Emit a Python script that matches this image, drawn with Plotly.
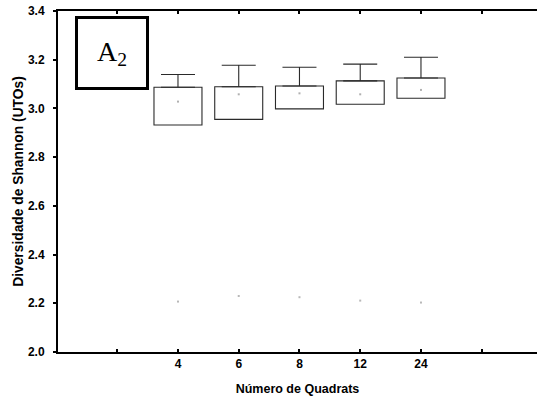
import plotly.graph_objects as go

# Number of quadrats sampled and Shannon diversity summaries per group
quadrats = ["4", "6", "8", "12", "24"]
box_low = [2.932, 2.955, 2.998, 3.017, 3.042]
box_high = [3.087, 3.089, 3.092, 3.113, 3.125]
whisker_high = [3.139, 3.177, 3.169, 3.182, 3.210]
centre = [3.028, 3.058, 3.062, 3.058, 3.076]
low_marks = [2.207, 2.230, 2.225, 2.211, 2.203]

# numeric slot for each category (slots 1 and 7 are empty tick positions)
xpos = [i + 2 for i in range(len(quadrats))]
tick_vals = [1] + xpos + [7]
tick_text = [""] + quadrats + [""]

font_family = "Liberation Sans, Arial, sans-serif"
bold_font = dict(family=font_family, size=12, color="black", weight="bold")
xtitle_font = dict(family=font_family, size=12.5, color="black", weight="bold")
ytitle_font = dict(family=font_family, size=13.8, color="black", weight="bold")

fig = go.Figure()

# boxes: from lower to upper quartile
fig.add_trace(go.Bar(
    x=xpos,
    y=[h - l for h, l in zip(box_high, box_low)],
    base=box_low,
    width=0.79,
    marker=dict(color="white", line=dict(color="#2a2a2a", width=1.1)),
    hoverinfo="skip",
    showlegend=False,
))

# upper whiskers with caps
fig.add_trace(go.Scatter(
    x=xpos,
    y=box_high,
    mode="markers",
    marker=dict(size=1, color="rgba(0,0,0,0)"),
    error_y=dict(
        type="data",
        symmetric=False,
        array=[w - h for w, h in zip(whisker_high, box_high)],
        arrayminus=[0] * len(xpos),
        color="#2a2a2a",
        thickness=1.1,
        width=17,
    ),
    showlegend=False,
    hoverinfo="skip",
))

# faint centre points
fig.add_trace(go.Scatter(
    x=xpos, y=centre, mode="markers",
    marker=dict(size=2, color="#b0b0b0", symbol="square"),
    showlegend=False, hoverinfo="skip",
))

# faint lower marks
fig.add_trace(go.Scatter(
    x=xpos, y=low_marks, mode="markers",
    marker=dict(size=2, color="#b8b8b8", symbol="square"),
    showlegend=False, hoverinfo="skip",
))

fig.update_layout(
    width=537, height=406,
    margin=dict(l=58, r=0, t=11, b=54),
    paper_bgcolor="white",
    plot_bgcolor="white",
    font=dict(family=font_family, size=12, color="black"),
    xaxis=dict(
        range=[0.025, 7.91],
        tickmode="array",
        tickvals=tick_vals,
        ticktext=tick_text,
        ticks="inside",
        ticklen=3,
        tickwidth=1.5,
        tickcolor="black",
        showline=True,
        linecolor="black",
        linewidth=2,
        mirror="ticks",
        showgrid=False,
        zeroline=False,
        tickfont=bold_font,
        title=dict(text="Número de Quadrats", standoff=14, font=xtitle_font),
    ),
    yaxis=dict(
        range=[2.0, 3.4],
        tickmode="array",
        tickvals=[2.0, 2.2, 2.4, 2.6, 2.8, 3.0, 3.2, 3.4],
        ticktext=["2.0", "2.2", "2.4", "2.6", "2.8", "3.0", "3.2", "3.4"],
        ticks="outside",
        ticklen=3,
        tickwidth=1.5,
        tickcolor="black",
        ticklabelstandoff=6,
        showline=True,
        linecolor="black",
        linewidth=2,
        showgrid=False,
        zeroline=False,
        tickfont=bold_font,
        title=dict(text="Diversidade de Shannon (UTOs)", standoff=1, font=ytitle_font),
    ),
    annotations=[dict(
        text="A<sub>2</sub>",
        xref="paper", yref="paper",
        x=0.0355, y=0.984,
        xanchor="left", yanchor="top",
        showarrow=False,
        font=dict(family="Liberation Serif, Times New Roman, serif", size=28, color="black"),
        bordercolor="black",
        borderwidth=3,
        width=66,
        height=66,
        bgcolor="white",
    )],
)

fig.write_html("out.html")
